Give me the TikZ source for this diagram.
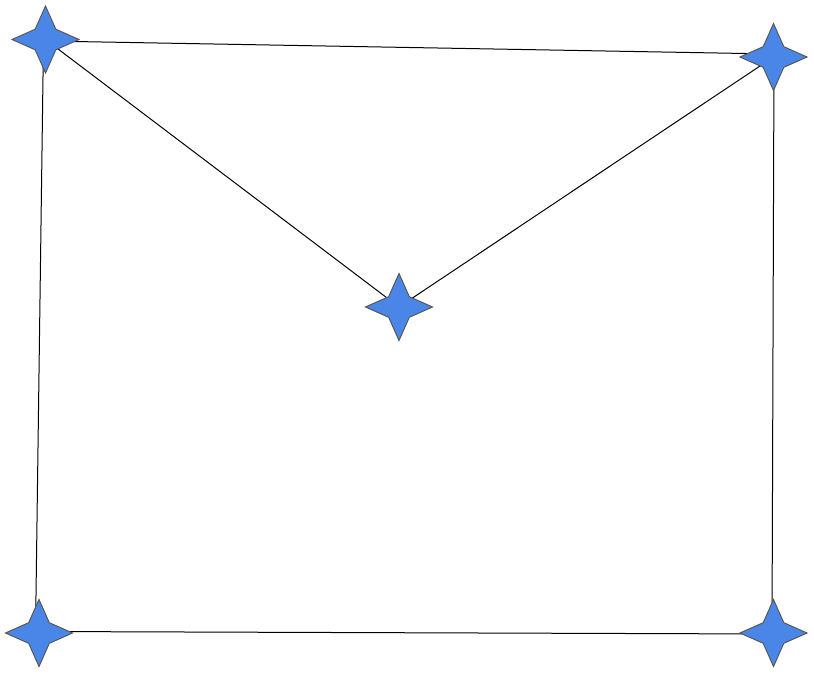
\documentclass[tikz,border=0pt]{standalone}
\usetikzlibrary{shapes.geometric,backgrounds}
\definecolor{starblue}{HTML}{4A86E8}
\definecolor{stargray}{HTML}{595959}
\begin{document}
\begin{tikzpicture}[x=1pt,y=-1pt,
  starnode/.style={star, star points=4, star point ratio=2.3, minimum size=67pt, inner sep=0pt,
    fill=starblue, draw=stargray, line width=1pt},
  edge/.style={draw=black, line width=1pt}]
\useasboundingbox (0,0) rectangle (814,674);
\node[starnode] (TL) at (45.5,39.5) {};
\node[starnode] (TR) at (773.5,57) {};
\node[starnode] (C) at (399,307) {};
\node[starnode] (BL) at (39,633) {};
\node[starnode] (BR) at (773.5,633) {};
\begin{scope}[on background layer]
\fill[white] (0,0) rectangle (814,674);
\draw[edge] ([yshift=-1.5pt]TL.center) -- ([yshift=3pt]TR.center);
\draw[edge] ([xshift=-2pt]TL.center) -- ([xshift=-3.5pt]BL.center);
\draw[edge] ([xshift=0.5pt]TR.center) -- ([xshift=-1.5pt]BR.center);
\draw[edge] ([yshift=1.5pt]BL.center) -- ([yshift=-1pt]BR.center);
\draw[edge] (TL.center) -- (C.center);
\draw[edge] (C.center) -- (TR.center);
\end{scope}
\end{tikzpicture}
\end{document}
